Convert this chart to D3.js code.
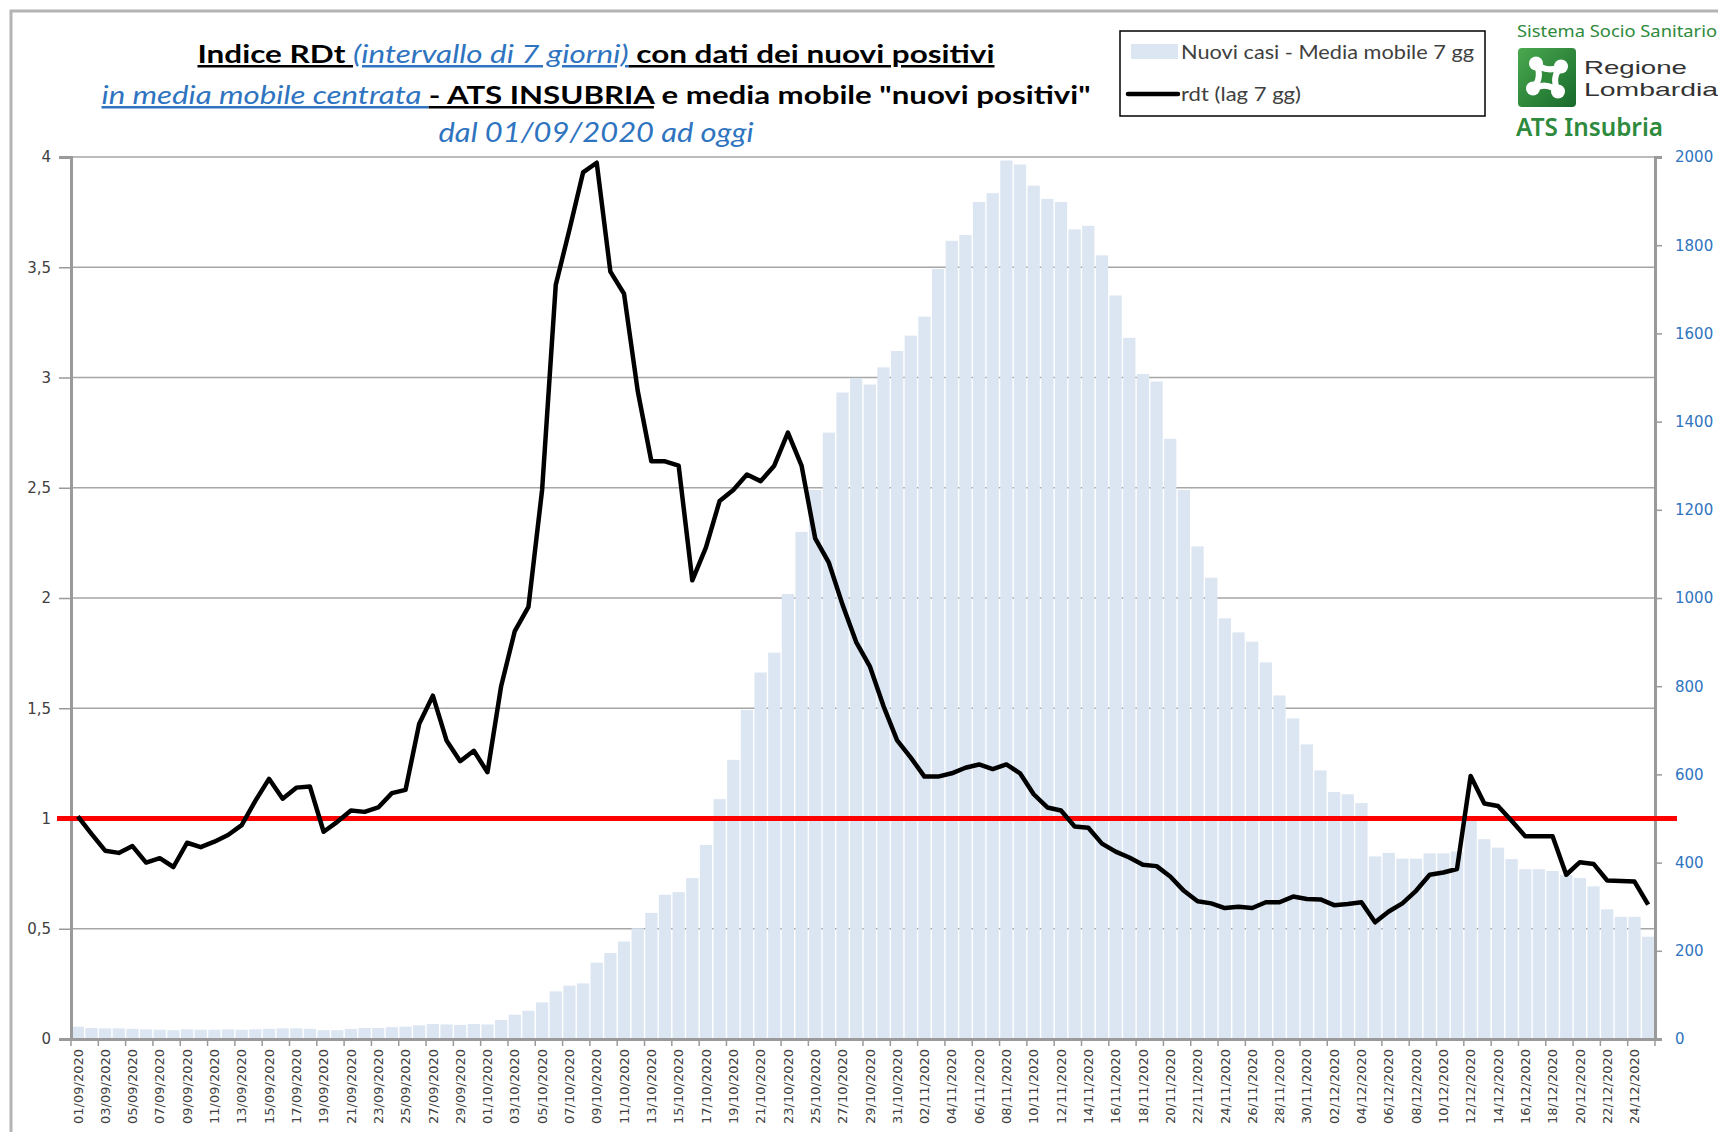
<!DOCTYPE html>
<html>
<head>
<meta charset="utf-8">
<script src="https://cdn.jsdelivr.net/npm/d3@7"></script>
<style>
  body { margin: 0; background: #fff; }
  svg { display: block; }
</style>
</head>
<body>
<div id="chart"></div>
<script>
// ---- data ----
// one category per day, 01/09/2020 -> 25/12/2020
const days = d3.timeDay.range(new Date(2020, 8, 1), new Date(2020, 11, 26))
const dayLabels = days.map(d3.timeFormat("%d/%m/%Y"))

// nuovi casi - media mobile 7 gg (right axis)
const newCases = [
  28, 25, 24, 24, 23, 22, 21, 20, 22, 21, 21, 22, 21, 22, 23, 24, 24, 23,
  20, 20, 23, 25, 25, 27, 28, 31, 34, 33, 32, 34, 33, 43, 55, 64, 83, 108, 121, 126,
  173, 195, 221, 251, 286, 327, 333, 365, 440, 544, 633, 746, 831, 876, 1009, 1150, 1245, 1375, 1466,
  1499, 1484, 1523, 1560, 1595, 1638, 1746, 1810, 1823, 1898, 1918, 1992, 1983, 1935, 1905, 1898, 1836, 1844, 1777,
  1686, 1590, 1508, 1491, 1361, 1245, 1117, 1046, 954, 922, 901, 854, 779, 727, 668, 609, 560, 555, 535,
  414, 422, 409, 409, 421, 421, 425, 505, 453, 434, 408, 385, 385, 381, 372, 365, 346, 294, 277, 277, 232
]

// rdt (lag 7 gg) (left axis)
const rdt = [
  1.01, 0.93, 0.854, 0.844, 0.875, 0.80, 0.82, 0.78, 0.89, 0.87, 0.895, 0.925, 0.97, 1.08, 1.18, 1.09, 1.14, 1.145, 0.94,
  0.985, 1.036, 1.03, 1.05, 1.115, 1.13, 1.43, 1.557, 1.354, 1.26, 1.307, 1.21, 1.60, 1.85, 1.96, 2.49, 3.42, 3.67, 3.93,
  3.974, 3.48, 3.38, 2.94, 2.62, 2.62, 2.60, 2.08, 2.23, 2.44, 2.49, 2.56, 2.53, 2.60, 2.75, 2.60, 2.27, 2.16, 1.97,
  1.80, 1.69, 1.51, 1.354, 1.276, 1.19, 1.19, 1.205, 1.23, 1.245, 1.224, 1.245, 1.205, 1.11, 1.05, 1.036, 0.964, 0.958, 0.886,
  0.85, 0.823, 0.79, 0.784, 0.737, 0.672, 0.625, 0.615, 0.594, 0.60, 0.594, 0.62, 0.62, 0.646, 0.635, 0.633, 0.607, 0.612, 0.62,
  0.529, 0.578, 0.615, 0.672, 0.745, 0.755, 0.771, 1.193, 1.068, 1.057, 0.99, 0.919, 0.919, 0.919, 0.745, 0.802, 0.794, 0.719, 0.716, 0.714, 0.609
]

const rdtTicks = [0, 0.5, 1, 1.5, 2, 2.5, 3, 3.5, 4]
const casesTicks = [0, 200, 400, 600, 800, 1000, 1200, 1400, 1600, 1800, 2000]
const threshold = 1

// ---- setup ----
canvas = ({width: 1718, height: 1132})
plot = ({left: 71, right: 1655, top: 157, bottom: 1039})

bar_blue = "#dce6f2"
title_blue = "#2f74c0"
axis_grey = "#9a9a9a"
green = "#2e8a3c"

const svg = d3.select("#chart").append("svg")
  .attr("width", canvas.width)
  .attr("height", canvas.height)
  .attr("viewBox", [0, 0, canvas.width, canvas.height])

x = d3.scaleBand().domain(dayLabels).range([plot.left, plot.right]).padding(0)
y = d3.scaleLinear().domain([0, 4]).range([plot.bottom, plot.top])
y2 = d3.scaleLinear().domain([0, 2000]).range([plot.bottom, plot.top])

// outer frame of the slide
svg.append("path")
  .attr("d", `M11,${canvas.height} L11,11 L${canvas.width},11`)
  .attr("fill", "none")
  .attr("stroke", "#b4b4b4")
  .attr("stroke-width", 3)

// gridlines
svg.append("g")
  .selectAll("line")
  .data(rdtTicks.slice(1))
  .join("line")
  .attr("x1", plot.left).attr("x2", plot.right)
  .attr("y1", d => y(d)).attr("y2", d => y(d))
  .attr("stroke", "#a6a6a6")
  .attr("stroke-width", 1.5)

// bars
svg.append("g")
  .selectAll("rect")
  .data(newCases)
  .join("rect")
  .attr("x", (d, i) => x(dayLabels[i]) + 0.7)
  .attr("width", x.bandwidth() - 1.4)
  .attr("y", d => y2(d))
  .attr("height", d => y2(0) - y2(d))
  .attr("fill", bar_blue)

// left axis
yAxis = g => g
  .attr("transform", `translate(${plot.left},0)`)
  .call(d3.axisLeft(y).tickValues(rdtTicks).tickSize(12).tickPadding(8)
    .tickFormat(d => String(d).replace(".", ",")))
  .call(g => g.select(".domain").attr("stroke", axis_grey).attr("stroke-width", 3))
  .call(g => g.selectAll(".tick line").attr("stroke", axis_grey).attr("stroke-width", 1.5))
  .call(g => g.selectAll(".tick text")
    .attr("fill", "#404040")
    .attr("font-family", "DejaVu Sans")
    .attr("font-size", 15))

// right axis
y2Axis = g => g
  .attr("transform", `translate(${plot.right},0)`)
  .call(d3.axisRight(y2).tickValues(casesTicks).tickSize(7).tickPadding(13)
    .tickFormat(d3.format("d")))
  .call(g => g.select(".domain").attr("stroke", axis_grey).attr("stroke-width", 3))
  .call(g => g.selectAll(".tick line").attr("stroke", axis_grey).attr("stroke-width", 1.5))
  .call(g => g.selectAll(".tick text")
    .attr("fill", title_blue)
    .attr("font-family", "DejaVu Sans")
    .attr("font-size", 15))

// bottom axis: labels every 2 days, rotated
xAxis = g => g
  .attr("transform", `translate(0,${plot.bottom})`)
  .call(d3.axisBottom(x).tickValues(dayLabels.filter((d, i) => i % 2 === 0)).tickSize(0).tickPadding(0))
  .call(g => g.select(".domain").attr("stroke", axis_grey).attr("stroke-width", 3))
  .call(g => g.selectAll(".tick text")
    .attr("transform", "rotate(-90)")
    .attr("text-anchor", "end")
    .attr("x", -10)
    .attr("y", 0)
    .attr("dy", "0.36em")
    .attr("fill", "#404040")
    .attr("font-family", "DejaVu Sans")
    .attr("font-size", 13))

svg.append("g").call(yAxis)
svg.append("g").call(y2Axis)
svg.append("g").call(xAxis)

// x tick marks on the category boundaries
svg.append("g")
  .selectAll("line")
  .data(dayLabels.filter((d, i) => i % 2 === 0).concat([null]))
  .join("line")
  .attr("x1", d => d === null ? plot.right : x(d))
  .attr("x2", d => d === null ? plot.right : x(d))
  .attr("y1", plot.bottom).attr("y2", plot.bottom + 7)
  .attr("stroke", axis_grey)
  .attr("stroke-width", 1.5)

// red threshold line at rdt = 1
svg.append("line")
  .attr("x1", plot.left - 14).attr("x2", plot.right + 22)
  .attr("y1", y(threshold)).attr("y2", y(threshold))
  .attr("stroke", "#ff0000")
  .attr("stroke-width", 5)

// rdt line
line_rdt = d3.line()
  .x((d, i) => x(dayLabels[i]) + x.bandwidth() / 2)
  .y(d => y(d))

svg.append("path")
  .attr("fill", "none")
  .attr("stroke", "#000")
  .attr("stroke-width", 4.5)
  .attr("stroke-linejoin", "round")
  .attr("d", line_rdt(rdt))

// ---- title ----
const title = svg.append("g")
  .attr("font-family", "Lato")
  .attr("font-size", 25)
  .attr("text-anchor", "middle")

const t1 = title.append("text").attr("x", 596).attr("y", 63)
  .attr("textLength", 797).attr("lengthAdjust", "spacingAndGlyphs")
t1.append("tspan").attr("font-weight", "bold").attr("fill", "#000")
  .style("text-decoration", "underline").text("Indice RDt ")
t1.append("tspan").attr("font-style", "italic").attr("fill", title_blue)
  .style("text-decoration", "underline").text("(intervallo di 7 giorni)")
t1.append("tspan").attr("font-weight", "bold").attr("fill", "#000")
  .style("text-decoration", "underline").text(" con dati dei nuovi positivi")

const t2 = title.append("text").attr("x", 596).attr("y", 104)
  .attr("textLength", 989).attr("lengthAdjust", "spacingAndGlyphs")
t2.append("tspan").attr("font-style", "italic").attr("fill", title_blue)
  .style("text-decoration", "underline").text("in media mobile centrata ")
t2.append("tspan").attr("font-weight", "bold").attr("fill", "#000")
  .style("text-decoration", "underline").text("- ATS INSUBRIA")
t2.append("tspan").attr("font-weight", "bold").attr("fill", "#000")
  .text(" e media mobile \"nuovi positivi\"")

title.append("text").attr("x", 596).attr("y", 142)
  .attr("font-size", 27)
  .attr("textLength", 315).attr("lengthAdjust", "spacingAndGlyphs")
  .attr("font-style", "italic").attr("fill", title_blue)
  .text("dal 01/09/2020 ad oggi")

// ---- legend ----
const legend = svg.append("g")
legend.append("rect")
  .attr("x", 1120).attr("y", 31).attr("width", 365).attr("height", 85)
  .attr("fill", "#fff").attr("stroke", "#000").attr("stroke-width", 1.5)
legend.append("rect")
  .attr("x", 1131).attr("y", 44).attr("width", 47).attr("height", 15)
  .attr("fill", bar_blue)
legend.append("line")
  .attr("x1", 1128).attr("x2", 1178).attr("y1", 94).attr("y2", 94)
  .attr("stroke", "#000").attr("stroke-width", 4.5).attr("stroke-linecap", "round")
legend.append("text")
  .attr("x", 1181).attr("y", 59)
  .attr("font-family", "Lato").attr("font-size", 19).attr("fill", "#404040")
  .attr("textLength", 293).attr("lengthAdjust", "spacingAndGlyphs")
  .text("Nuovi casi - Media mobile 7 gg")
legend.append("text")
  .attr("x", 1181).attr("y", 101)
  .attr("font-family", "Lato").attr("font-size", 19).attr("fill", "#404040")
  .attr("textLength", 120).attr("lengthAdjust", "spacingAndGlyphs")
  .text("rdt (lag 7 gg)")

// ---- logo ----
const logo = svg.append("g")
logo.append("text")
  .attr("x", 1517).attr("y", 37)
  .attr("font-family", "Noto Sans").attr("font-size", 15.5).attr("fill", green)
  .attr("textLength", 200).attr("lengthAdjust", "spacingAndGlyphs")
  .text("Sistema Socio Sanitario")

const grad = svg.append("defs").append("linearGradient")
  .attr("id", "lgreen").attr("x1", 0).attr("y1", 0).attr("x2", 1).attr("y2", 1)
grad.append("stop").attr("offset", "0%").attr("stop-color", "#4aa94f")
grad.append("stop").attr("offset", "100%").attr("stop-color", "#17692a")

logo.append("rect")
  .attr("x", 1518).attr("y", 48).attr("width", 58).attr("height", 59).attr("rx", 4)
  .attr("fill", "url(#lgreen)")

const rosa = logo.append("g").attr("transform", "translate(1547,77.5)").attr("fill", "#fff")
const lobes = [[-11, -14], [14, -11], [11, 14], [-14, 11]]
rosa.selectAll("circle").data(lobes).join("circle")
  .attr("cx", d => d[0]).attr("cy", d => d[1]).attr("r", 7)
rosa.append("path")
  .attr("d", "M-11,-14 Q0,-4 14,-11 M14,-11 Q4,0 11,14 M11,14 Q0,4 -14,11 M-14,11 Q-4,0 -11,-14")
  .attr("fill", "none").attr("stroke", "#fff").attr("stroke-width", 6)
rosa.append("circle").attr("r", 5).attr("fill", "#2c8a38")

logo.append("text")
  .attr("x", 1584).attr("y", 74)
  .attr("font-family", "Liberation Sans").attr("font-size", 18.5).attr("fill", "#333")
  .attr("textLength", 103).attr("lengthAdjust", "spacingAndGlyphs")
  .text("Regione")
logo.append("text")
  .attr("x", 1584).attr("y", 96)
  .attr("font-family", "Liberation Sans").attr("font-size", 18.5).attr("fill", "#333")
  .attr("textLength", 134).attr("lengthAdjust", "spacingAndGlyphs")
  .text("Lombardia")
logo.append("text")
  .attr("x", 1516).attr("y", 136)
  .attr("font-family", "Noto Sans").attr("font-size", 25).attr("font-weight", 600).attr("fill", green)
  .attr("textLength", 147).attr("lengthAdjust", "spacingAndGlyphs")
  .text("ATS Insubria")
</script>
</body>
</html>
